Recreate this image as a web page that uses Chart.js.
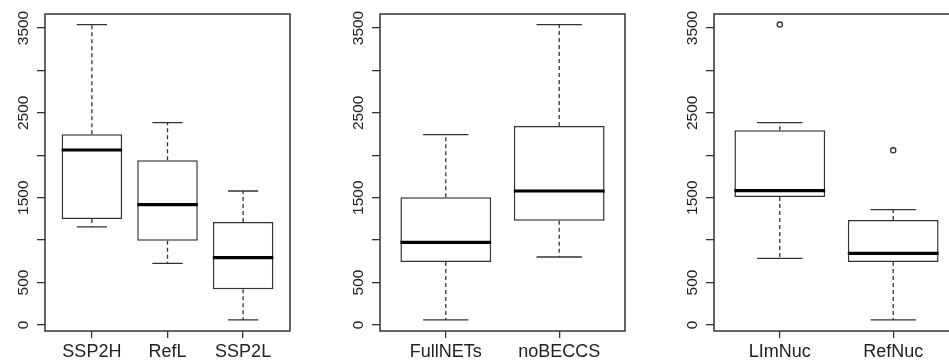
<!DOCTYPE html>
<html>
<head>
<meta charset="utf-8">
<script src="https://cdn.jsdelivr.net/npm/chart.js@4.4.1/dist/chart.umd.min.js"></script>
<style>
  html, body { margin: 0; padding: 0; background: #fff; overflow: hidden; }
  body { width: 949px; height: 364px; position: relative; }
  .panel { position: absolute; top: 0; width: 300px; height: 364px; }
</style>
</head>
<body>
<div class="panel" style="left:0px"><canvas id="c1" width="300" height="364"></canvas></div>
<div class="panel" style="left:335px"><canvas id="c2" width="300" height="364"></canvas></div>
<div class="panel" style="left:669px"><canvas id="c3" width="300" height="364"></canvas></div>
<script>
// shared y axis
const yTicks = [0, 500, 1000, 1500, 2000, 2500, 3000, 3500];
const yLabels = [0, 500, 1500, 2500, 3500];
const yMin = -71;
const yMax = 3665;

// panel 1
const cats1 = ['SSP2H', 'RefL', 'SSP2L'];
const low1 = [1155, 727, 59];
const q1_1 = [1249, 993, 421];
const med1 = [2062, 1418, 793];
const q3_1 = [2247, 1941, 1214];
const high1 = [3540, 2384, 1579];
const out1 = [[], [], []];

// panel 2
const cats2 = ['FullNETs', 'noBECCS'];
const low2 = [59, 801];
const q1_2 = [742, 1229];
const med2 = [974, 1579];
const q3_2 = [1505, 2345];
const high2 = [2243, 3540];
const out2 = [[], []];

// panel 3
const cats3 = ['LImNuc', 'RefNuc'];
const low3 = [786, 59];
const q1_3 = [1508, 742];
const med3 = [1583, 845];
const q3_3 = [2294, 1237];
const high3 = [2384, 1359];
const out3 = [[3540], [2058]];

const ink = '#333';

const boxPlugin = {
    id: 'boxExtras',
    afterDatasetsDraw(chart) {
        const ctx = chart.ctx;
        const xs = chart.scales.x;
        const ys = chart.scales.y;
        const b = chart.options.plugins.boxExtras;
        ctx.save();
        ctx.strokeStyle = ink;
        b.low.forEach((lo, i) => {
            const cx = xs.getPixelForValue(i + 1);
            const capL = xs.getPixelForValue(i + 0.8);
            const capR = xs.getPixelForValue(i + 1.2);
            // whiskers (dashed)
            ctx.lineWidth = 1.3;
            ctx.setLineDash([4, 3]);
            ctx.beginPath();
            ctx.moveTo(cx, ys.getPixelForValue(b.q3[i]));
            ctx.lineTo(cx, ys.getPixelForValue(b.high[i]));
            ctx.moveTo(cx, ys.getPixelForValue(b.q1[i]));
            ctx.lineTo(cx, ys.getPixelForValue(lo));
            ctx.stroke();
            // caps
            ctx.setLineDash([]);
            ctx.beginPath();
            ctx.moveTo(capL, ys.getPixelForValue(b.high[i]));
            ctx.lineTo(capR, ys.getPixelForValue(b.high[i]));
            ctx.moveTo(capL, ys.getPixelForValue(lo));
            ctx.lineTo(capR, ys.getPixelForValue(lo));
            ctx.stroke();
            // median
            ctx.lineWidth = 3.2;
            ctx.strokeStyle = '#000';
            ctx.beginPath();
            ctx.moveTo(xs.getPixelForValue(i + 0.6), ys.getPixelForValue(b.med[i]));
            ctx.lineTo(xs.getPixelForValue(i + 1.4), ys.getPixelForValue(b.med[i]));
            ctx.stroke();
            ctx.strokeStyle = ink;
        });
        // frame
        const a = chart.chartArea;
        ctx.lineWidth = 1.5;
        ctx.strokeRect(a.left, a.top, a.right - a.left, a.bottom - a.top);
        // rotated y labels
        ctx.fillStyle = '#222';
        ctx.font = '15.5px "Liberation Sans", Arial, sans-serif';
        ctx.textAlign = 'center';
        ctx.textBaseline = 'alphabetic';
        yLabels.forEach(v => {
            ctx.save();
            ctx.translate(27.5, ys.getPixelForValue(v));
            ctx.rotate(-Math.PI / 2);
            ctx.fillText(String(v), 0, 0);
            ctx.restore();
        });
        ctx.restore();
    }
};

function makePanel(id, cats, low, q1, med, q3, high, outs) {
    const n = cats.length;
    const ext = n * 0.04;
    const outPts = [];
    outs.forEach((arr, i) => arr.forEach(v => outPts.push({ x: i + 1, y: v })));
    new Chart(document.getElementById(id), {
        data: {
            datasets: [{
                type: 'bar',
                data: cats.map((c, i) => ({ x: i + 1, y: [q1[i], q3[i]] })),
                backgroundColor: '#fff',
                borderColor: ink,
                borderWidth: 1.5,
                borderSkipped: false,
                barPercentage: 0.8,
                categoryPercentage: 1
            }, {
                type: 'scatter',
                data: outPts,
                pointRadius: 2.6,
                pointBackgroundColor: '#fff',
                pointBorderColor: ink,
                pointBorderWidth: 1.3
            }]
        },
        options: {
            responsive: false,
            animation: false,
            layout: { padding: { top: 14, right: 10, left: 0, bottom: 0 } },
            plugins: {
                legend: { display: false },
                tooltip: { enabled: false },
                boxExtras: { low, q1, med, q3, high }
            },
            scales: {
                x: {
                    type: 'linear',
                    offset: false,
                    min: 0.5 - ext,
                    max: n + 0.5 + ext,
                    afterBuildTicks: s => { s.ticks = cats.map((c, i) => ({ value: i + 1 })); },
                    afterFit: s => { s.height = 33; },
                    border: { display: false },
                    grid: { offset: false, drawOnChartArea: false, drawTicks: true, tickLength: 7, color: ink, lineWidth: 1.3 },
                    ticks: {
                        autoSkip: false,
                        maxRotation: 0,
                        padding: 3,
                        color: '#222',
                        font: { family: '"Liberation Sans", Arial, sans-serif', size: 18 },
                        callback: v => cats[v - 1]
                    }
                },
                y: {
                    type: 'linear',
                    min: yMin,
                    max: yMax,
                    afterBuildTicks: s => { s.ticks = yTicks.map(v => ({ value: v })); },
                    afterFit: s => { s.width = 45; },
                    border: { display: false },
                    grid: { drawOnChartArea: false, drawTicks: true, tickLength: 8, color: ink, lineWidth: 1.3 },
                    ticks: { display: false }
                }
            }
        },
        plugins: [boxPlugin]
    });
}

makePanel('c1', cats1, low1, q1_1, med1, q3_1, high1, out1);
makePanel('c2', cats2, low2, q1_2, med2, q3_2, high2, out2);
makePanel('c3', cats3, low3, q1_3, med3, q3_3, high3, out3);
</script>
</body>
</html>
